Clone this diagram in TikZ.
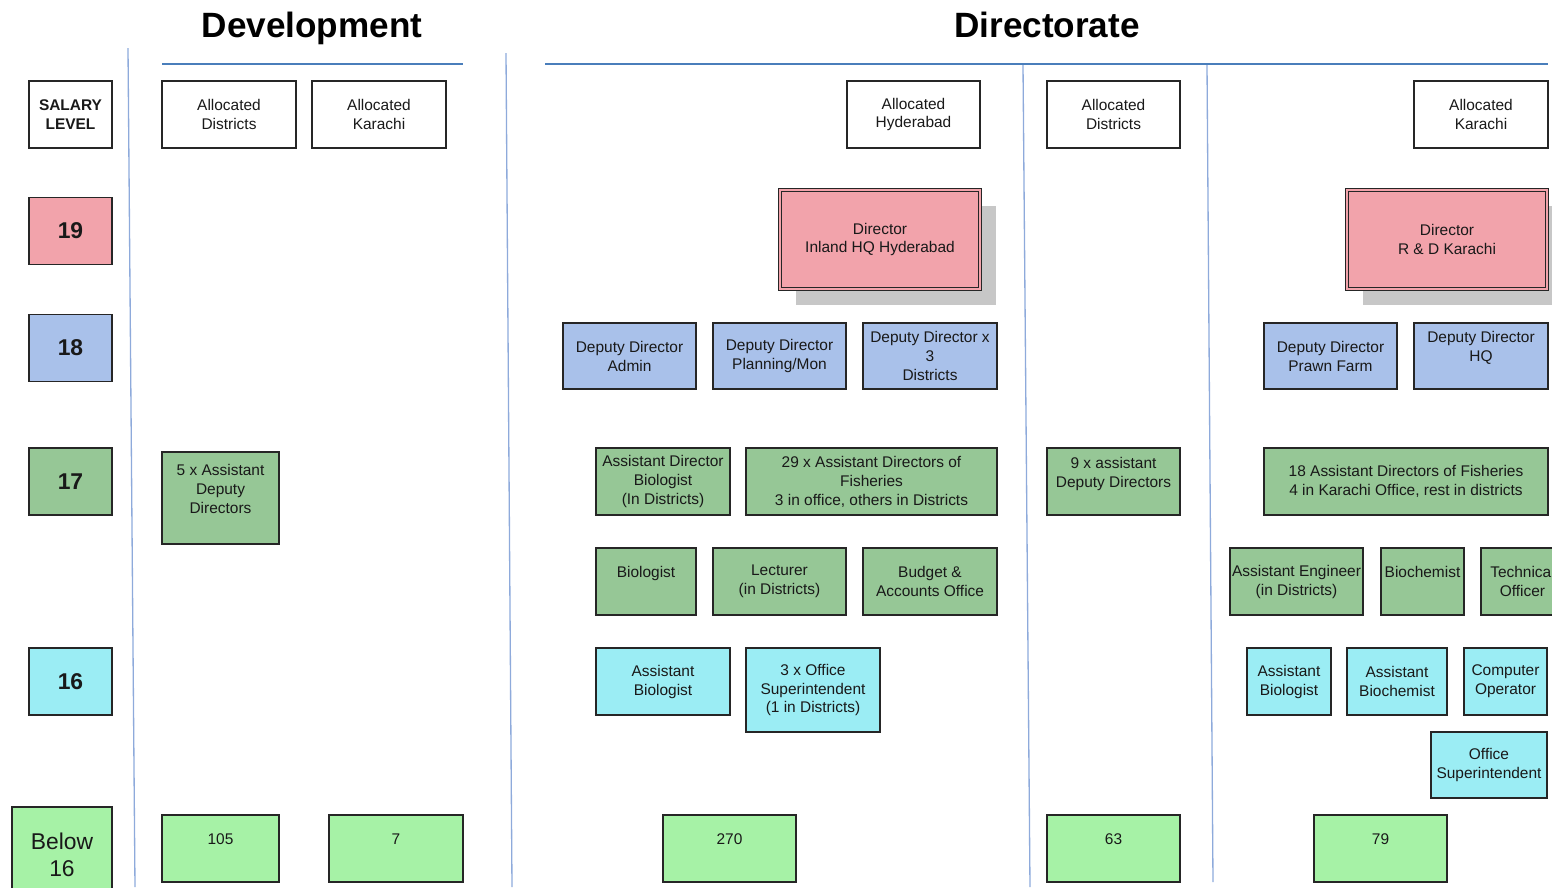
\documentclass[tikz,border=0pt]{standalone}
\usepackage{fontspec}
\setmainfont{Liberation Sans}
\usetikzlibrary{shadows}
\definecolor{lvlred}{HTML}{F2A3AB}
\definecolor{lvlblue}{HTML}{A9C1EA}
\definecolor{lvlgreen}{HTML}{96C796}
\definecolor{lvlcyan}{HTML}{9BEDF4}
\definecolor{lvllime}{HTML}{A6F2A6}
\definecolor{rulblue}{HTML}{4A7EBB}
\definecolor{sepblue}{HTML}{8EAADB}
\newcommand\cellfont{\fontsize{8.8}{10.8}\selectfont}
\tikzset{
	cell/.style={draw=black!85, line width=0.7pt, align=center, inner sep=0pt,
		font=\cellfont, text=black!90},
	wh/.style 2 args={minimum width=#1*0.02cm, minimum height=#2*0.02cm},
	hdr/.style={cell, fill=white},
	c19/.style={cell, fill=lvlred},
	c18/.style={cell, fill=lvlblue},
	c17/.style={cell, fill=lvlgreen},
	c16/.style={cell, fill=lvlcyan},
	cbelow/.style={cell, fill=lvllime},
	dirbox/.style={c19, line width=0.6pt, double=lvlred, double distance=1.3pt,
		drop shadow={shadow xshift=0.32cm, shadow yshift=-0.32cm, fill=black!22, opacity=1}},
	lvlnum/.style={font=\fontsize{13}{15.6}\selectfont\bfseries},
	title/.style={font=\fontsize{20}{24}\selectfont\bfseries, anchor=base},
	rul/.style={draw=rulblue, line width=1.1pt},
	sep/.style={draw=sepblue, line width=0.75pt}
}
\begin{document}
\begin{tikzpicture}[x=0.02cm, y=-0.02cm]
	\useasboundingbox (0,0) rectangle (1552,887);
	% titles and rules
	\node[title] (devt) at (312,37) {Development};
	\node[title] (dirt) at (1047,37) {Directorate};
	\draw[rul] (162,64) -- (463,64);
	\draw[rul] (545,64) -- (1548,64);
	\draw[sep] (128,48) -- (135,887);
	\draw[sep] (506,53) -- (512,887);
	\draw[sep] (1023,65) -- (1030,887);
	\draw[sep] (1207,65) -- (1213,882);

	% header row
	\node[hdr, wh={83}{67}, font=\cellfont\bfseries] (sal) at (70.5,114.5) {SALARY\\LEVEL};
	\node[hdr, wh={134}{67}] (devdist) at (229,114.5) {Allocated\\Districts};
	\node[hdr, wh={134}{67}] (devkhi) at (379,114.5) {Allocated\\Karachi};
	\node[hdr, wh={133}{67}] (hyd) at (913.5,114.5) {Allocated\\Hyderabad};
	\node[hdr, wh={133}{67}] (dirdist) at (1113.5,114.5) {Allocated\\Districts};
	\node[hdr, wh={134}{67}] (dirkhi) at (1481,114.5) {Allocated\\Karachi};

	% salary levels
	\node[c19, wh={83}{67}, lvlnum] (s19) at (70.5,231) {19};
	\node[c18, wh={83}{67}, lvlnum] (s18) at (70.5,348) {18};
	\node[c17, wh={83}{67}, lvlnum] (s17) at (70.5,481.5) {17};
	\node[c16, wh={83}{67}, lvlnum] (s16) at (70.5,681.5) {16};
	\node[cbelow, wh={100}{96}, font=\fontsize{13}{15.6}\selectfont] (sbelow) at (62,855) {Below\\16};

	% level 19
	\node[dirbox, wh={200}{99}] (dirhyd) at (880,239.5) {Director\\Inland HQ Hyderabad};
	\node[dirbox, wh={200}{99}] (dirrd) at (1447,239.5) {Director\\R \& D Karachi};

	% level 18
	\node[c18, wh={133}{66}] (ddadmin) at (629.5,356) {Deputy Director\\Admin};
	\node[c18, wh={133}{66}] (ddplan) at (779.5,356) {Deputy Director\\Planning/Mon};
	\node[c18, wh={134}{66}] (dddist) at (930,356) {Deputy Director x\\3\\Districts};
	\node[c18, wh={133}{66}] (ddprawn) at (1330.5,356) {Deputy Director\\Prawn Farm};
	\node[c18, wh={134}{66}] (ddhq) at (1481,356) {Deputy Director\\HQ\\\mbox{}};

	% level 17
	\node[c17, wh={117}{92}] (devadd) at (220.5,498) {5 x Assistant\\Deputy\\Directors\\\mbox{}};
	\node[c17, wh={134}{67}] (adbio) at (663,481.5) {Assistant Director\\Biologist\\(In Districts)};
	\node[c17, wh={251}{67}] (ad29) at (871.5,481.5) {29 x Assistant Directors of\\Fisheries\\3 in office, others in Districts};
	\node[c17, wh={133}{67}] (ad9) at (1113.5,481.5) {9 x assistant\\Deputy Directors\\\mbox{}};
	\node[c17, wh={284}{67}] (ad18) at (1406,481.5) {18 Assistant Directors of Fisheries\\4 in Karachi Office, rest in districts};
	\node[c17, wh={100}{67}] (bio) at (646,581.5) {Biologist\\\mbox{}};
	\node[c17, wh={133}{67}] (lect) at (779.5,581.5) {Lecturer\\(in Districts)};
	\node[c17, wh={134}{67}] (budget) at (930,581.5) {Budget \&\\Accounts Office};
	\node[c17, wh={133}{67}] (asseng) at (1296.5,581.5) {Assistant Engineer\\(in Districts)};
	\node[c17, wh={83}{67}] (biochem) at (1422.5,581.5) {Biochemist\\\mbox{}};
	\node[c17, wh={83}{67}] (techoff) at (1522.5,581.5) {Technical\\Officer};

	% level 16
	\node[c16, wh={134}{67}] (asbio) at (663,681.5) {Assistant\\Biologist};
	\node[c16, wh={134}{84}] (offsup3) at (813,690) {3 x Office\\Superintendent\\(1 in Districts)};
	\node[c16, wh={84}{67}] (asbiokhi) at (1289,681.5) {Assistant\\Biologist};
	\node[c16, wh={100}{67}] (asbiochem) at (1397,681.5) {Assistant\\Biochemist};
	\node[c16, wh={83}{67}] (compop) at (1505.5,681.5) {Computer\\Operator};
	\node[c16, wh={116}{66}] (offsup) at (1489,765) {Office\\Superintendent};

	% below 16
	\node[cbelow, wh={117}{67}] (n105) at (220.5,848.5) {105\\\mbox{}};
	\node[cbelow, wh={134}{67}] (n7) at (396,848.5) {7\\\mbox{}};
	\node[cbelow, wh={133}{67}] (n270) at (729.5,848.5) {270\\\mbox{}};
	\node[cbelow, wh={133}{67}] (n63) at (1113.5,848.5) {63\\\mbox{}};
	\node[cbelow, wh={133}{67}] (n79) at (1380.5,848.5) {79\\\mbox{}};
\end{tikzpicture}
\end{document}
